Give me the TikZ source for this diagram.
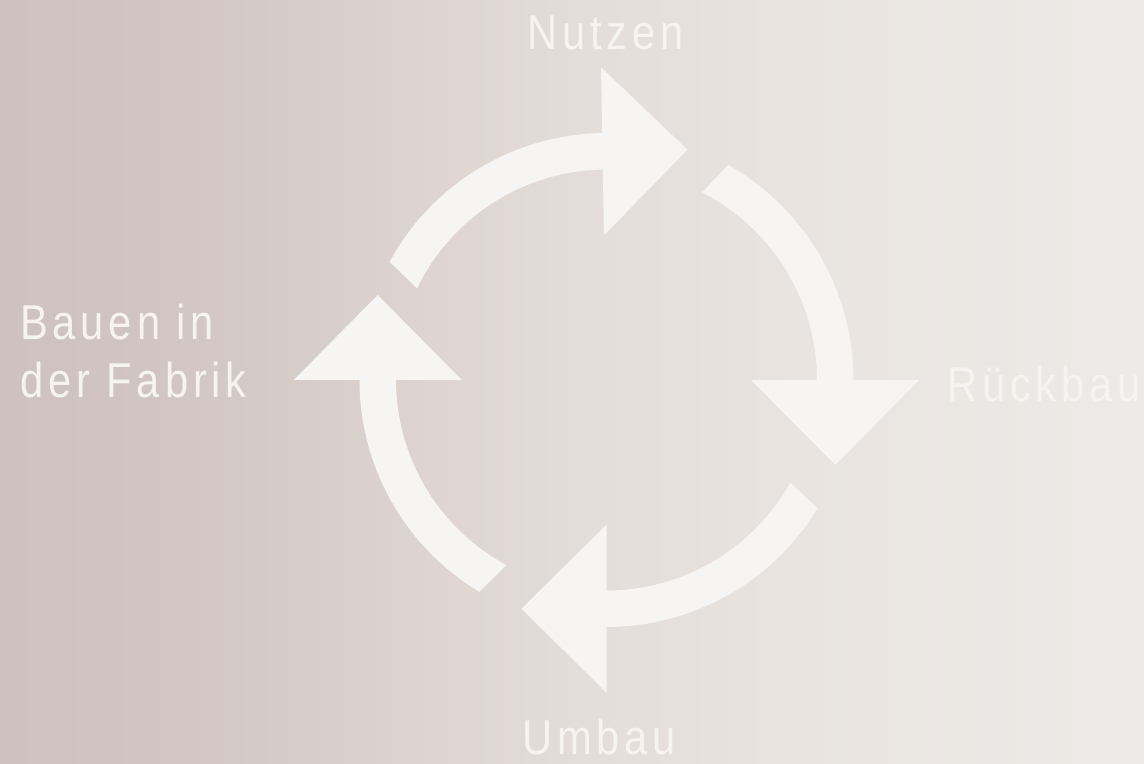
\documentclass[tikz,border=0pt]{standalone}
\usepackage{fontspec}
\usetikzlibrary{calc}
\newfontfamily\labfont[FakeStretch=0.85,LetterSpace=10]{Liberation Sans}
\definecolor{bgA}{RGB}{206,194,190}
\definecolor{bgB}{RGB}{208,197,193}
\definecolor{bgC}{RGB}{214,204,200}
\definecolor{bgD}{RGB}{223,214,210}
\definecolor{bgE}{RGB}{228,221,217}
\definecolor{bgF}{RGB}{233,228,224}
\definecolor{bgG}{RGB}{237,234,231}
\definecolor{arrowc}{RGB}{247,245,243}
\definecolor{labelc}{RGB}{246,243,241}
\pgfdeclarehorizontalshading{bgshade}{100bp}{color(0bp)=(bgA); color(25bp)=(bgA); color(31.5bp)=(bgB); color(38.1bp)=(bgC); color(44.7bp)=(bgD); color(51.2bp)=(bgE); color(60bp)=(bgF); color(75bp)=(bgG); color(100bp)=(bgG)}
\tikzset{
  arrowfill/.style={fill=arrowc},
  lab/.style={text=labelc, inner sep=0pt, font=\labfont\fontsize{49bp}{58bp}\selectfont, align=left}
}
\newcommand\cyclearrow[3]{%
  \fill[arrowfill] ($(C)+(#1:247)$) arc[start angle=#1, end angle=#3, radius=247]
    -- ($(C)+(#3:312.75)$) -- ($(C)+(#3:228.75)+(#3-90:85)$) -- ($(C)+(#3:144.75)$)
    -- ($(C)+(#3:210.5)$) arc[start angle=#3, end angle=#2, radius=210.5] -- cycle;}
\begin{document}
\begin{tikzpicture}[x=1bp,y=1bp]
  \shade[shading=bgshade] (0,0) rectangle (1144,764);
  \useasboundingbox (0,0) rectangle (1144,764);
  \coordinate (C) at (606.5,384);
  \cyclearrow{151.4}{154.2}{91}
  \cyclearrow{60.5}{63}{0}
  \cyclearrow{-31.3}{-29.2}{-90}
  \cyclearrow{-121}{-118.4}{-180}
  \node[lab, anchor=base west] (nutzen) at (527,714) {Nutzen};
  \node[lab, anchor=base west] (rueckbau) at (947,362) {Rückbau};
  \node[lab, anchor=base west] (umbau) at (522,9) {Umbau};
  \node[lab, anchor=base west] (bauen) at (20,366) {Bauen in\\der Fabrik};
\end{tikzpicture}
\end{document}
